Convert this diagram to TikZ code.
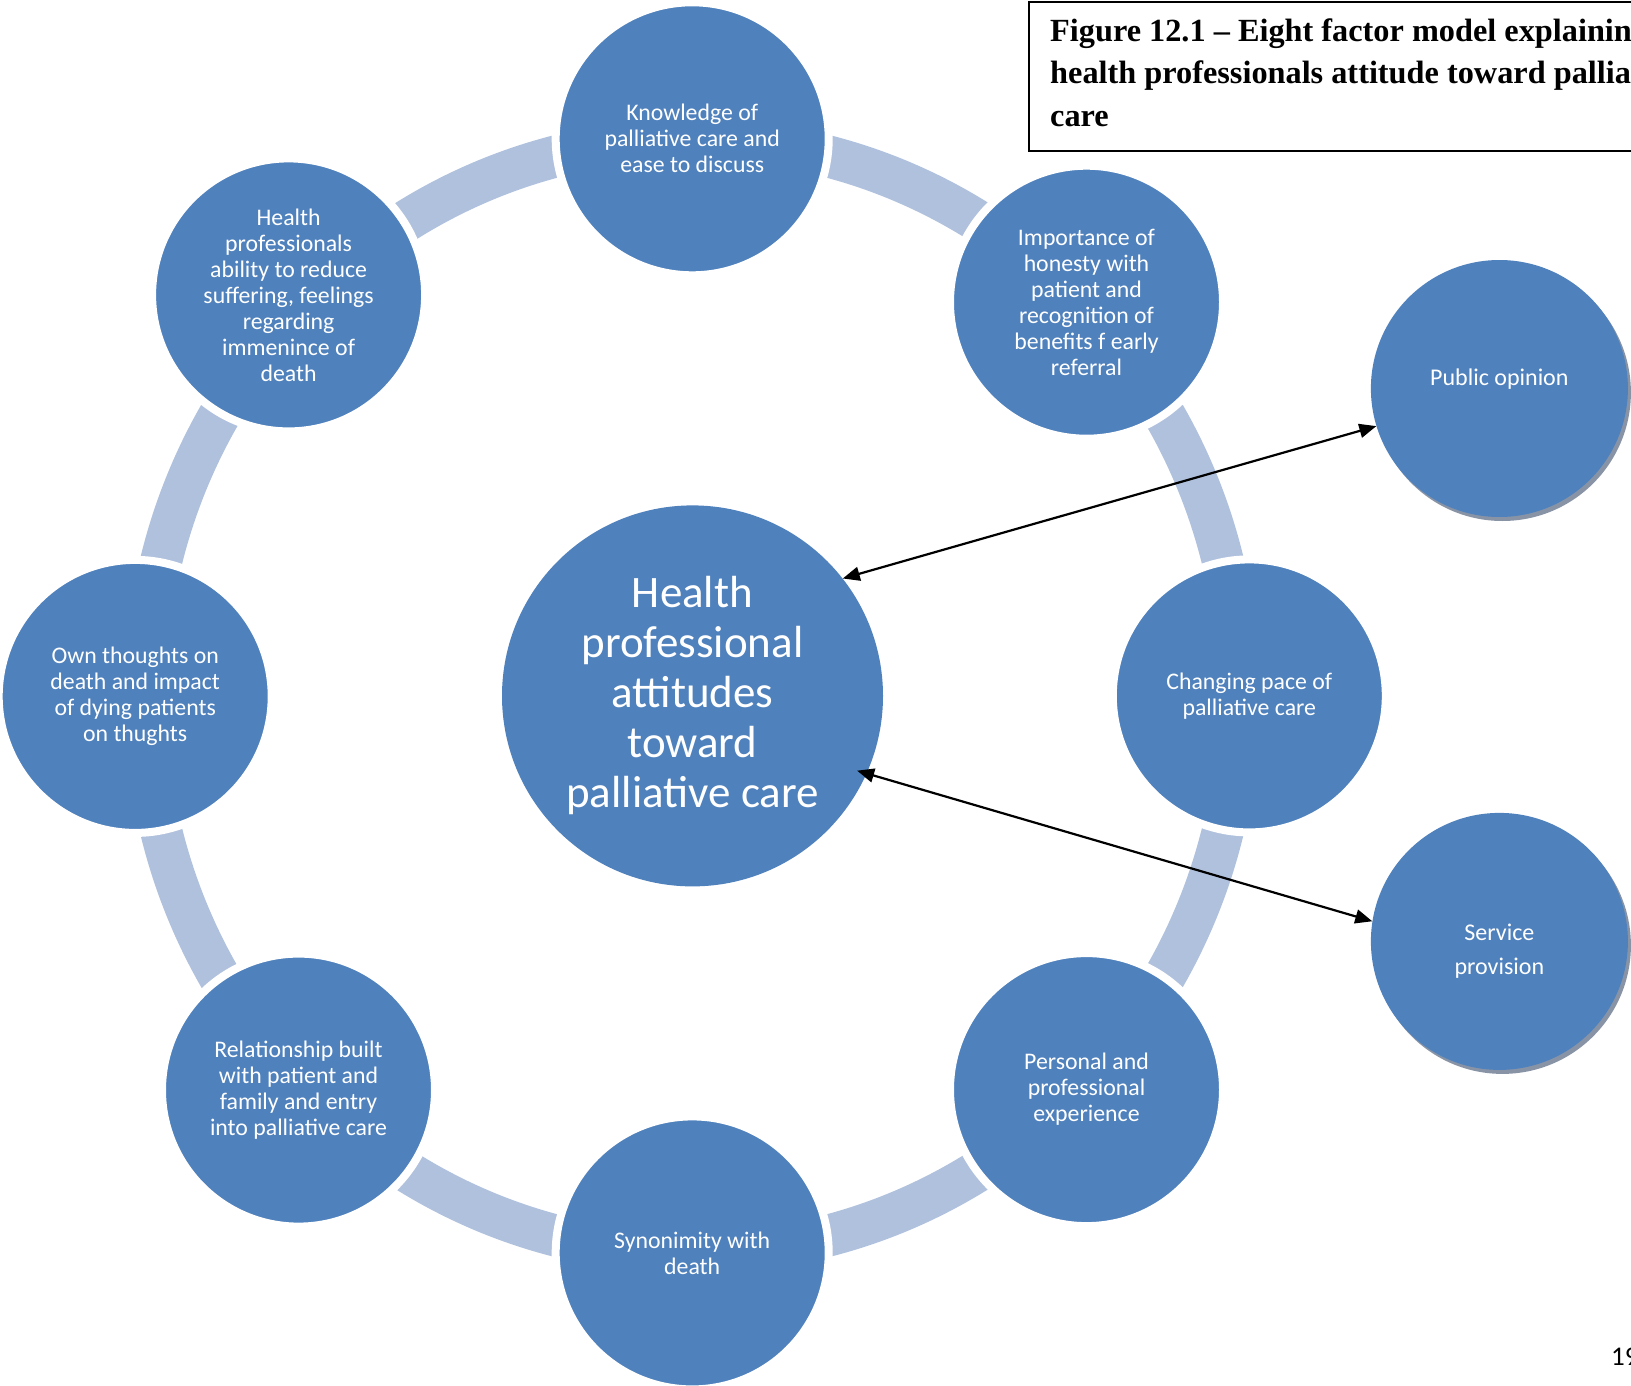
\documentclass[tikz,border=0pt]{standalone}
\usepackage{fontspec}
\setmainfont{Carlito}
\newfontfamily\titlefont{Liberation Serif}
\usetikzlibrary{arrows.meta,shadows}
\definecolor{cblue}{RGB}{79,129,189}
\definecolor{cband}{RGB}{176,193,222}
\definecolor{cshadow}{RGB}{136,148,166}
\begin{document}
\begin{tikzpicture}[x=1pt,y=-1pt,
  factor/.style={circle,fill=cblue,draw=white,line width=8pt,minimum size=273pt,
    inner sep=0pt,text=white,align=center,font=\fontsize{23.8}{26}\selectfont},
  hub/.style={circle,fill=cblue,minimum size=381pt,inner sep=0pt,text=white,
    align=center,font=\fontsize{45}{50}\selectfont},
  outer/.style={circle,fill=cblue,minimum size=257pt,inner sep=0pt,
    drop shadow={shadow xshift=3pt,shadow yshift=-4pt,fill=cshadow,opacity=1}},
  outertext/.style={text=white,align=center,font=\fontsize{24}{34}\selectfont,inner sep=0pt},
  link/.style={line width=2.2pt,{Triangle[length=17pt,width=14pt]}-{Triangle[length=17pt,width=14pt]}},
  band/.style={draw=cband,line width=42pt}
]
\useasboundingbox (0,0) rectangle (1631,1386);
\clip (0,0) rectangle (1631,1386);
\fill[white] (0,0) rectangle (1631,1386);

% ring
\draw[band] (692,696) ellipse [x radius=547, y radius=557];

% factor circles
\node[factor] (know) at (692.2,138.8) {Knowledge of\\palliative care and\\ease to discuss};
\node[factor] (imp)  at (1086.5,302.2) {Importance of\\honesty with\\patient and\\recognition of\\benefits f early\\referral};
\node[factor] (chg)  at (1249.3,695.9) {Changing pace of\\palliative care};
\node[factor] (pers) at (1086.5,1089.6) {Personal and\\professional\\experience};
\node[factor] (syn)  at (692.2,1252.9) {Synonimity with\\death};
\node[factor] (rel)  at (298.5,1090.1) {Relationship built\\with patient and\\family and entry\\into palliative care};
\node[factor] (own)  at (135.2,696.4) {Own thoughts on\\death and impact\\of dying patients\\on thughts};
\node[factor] (hp)   at (288.6,294.9) {Health\\professionals\\ability to reduce\\suffering, feelings\\regarding\\immenince of\\death};

% hub
\node[hub] (hubc) at (692.5,695.9) {Health\\professional\\attitudes\\toward\\palliative care};

% outer circles
\node[outer] (pub)  at (1499.4,388.5) {};
\node[outertext] (pubt) at (1499.4,379.5) {Public opinion};
\node[outer] (serv) at (1499.4,941.4) {};
\node[outertext] (servt) at (1499.4,951.5) {Service\\provision};

% arrows
\draw[link] (hubc.38.7) -- (pub.197.8);
\draw[link,shorten <=-10pt] (hubc.-24.3) -- (serv.171.3);

% title box
\draw[line width=2pt] (1029,2.5) rectangle (1700,151);
\node[anchor=north west,inner sep=0pt,align=left,
  font=\titlefont\bfseries\fontsize{32.3}{42.5}\selectfont] (title) at (1050,18.5)
  {Figure 12.1 – Eight factor model explaining\\health professionals attitude toward palliative\\care};

% page number
\node[anchor=base west,inner sep=0pt,font=\fontsize{27}{30}\selectfont] (pagenum) at (1611,1365) {19};
\end{tikzpicture}
\end{document}
